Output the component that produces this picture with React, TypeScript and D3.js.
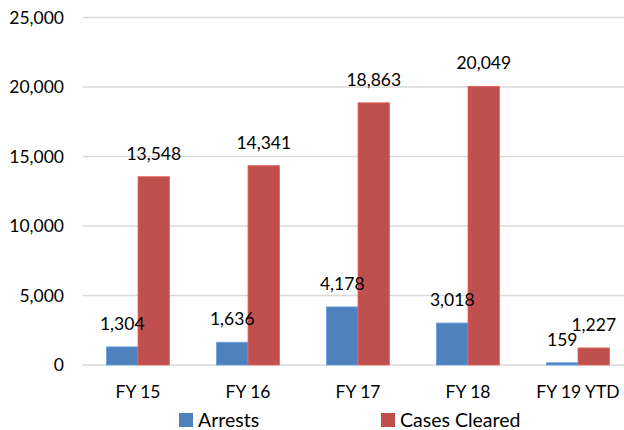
import React, { useEffect, useRef } from "react";
import * as d3 from "d3";

const categories = ["FY 15", "FY 16", "FY 17", "FY 18", "FY 19 YTD"];
const arrests = [1304, 1636, 4178, 3018, 159];
const casesCleared = [13548, 14341, 18863, 20049, 1227];
const yTicks = [0, 5000, 10000, 15000, 20000, 25000];
const seriesNames = ["Arrests", "Cases Cleared"];
const seriesColors = ["#4f81bd", "#c0504d"];

const W = 624;
const H = 430;
const FONT = "Lato, 'Open Sans', sans-serif";

const App: React.FC = () => {
  const ref = useRef<SVGSVGElement>(null);

  useEffect(() => {
    const svg = d3.select(ref.current);
    svg.selectAll("*").remove();

    const left = 83;
    const x = d3.scaleBand().domain(categories).range([left, left + 550]).paddingInner(0).paddingOuter(0);
    const y = d3.scaleLinear().domain([0, 25000]).range([365, 17.5]);
    const barW = 31.5;
    const fmt = d3.format(",");

    // gridlines + y labels
    const grid = svg.append("g");
    grid
      .selectAll("line")
      .data(yTicks)
      .enter()
      .append("line")
      .attr("x1", left)
      .attr("x2", W)
      .attr("y1", (d) => y(d))
      .attr("y2", (d) => y(d))
      .attr("stroke", "#d9d9d9")
      .attr("stroke-width", 1.3);
    grid
      .selectAll("text")
      .data(yTicks)
      .enter()
      .append("text")
      .attr("x", 64)
      .attr("y", (d) => y(d))
      .attr("dy", "0.36em")
      .attr("text-anchor", "end")
      .style("font-family", FONT)
      .style("font-size", "17.5px")
      .attr("fill", "#000")
      .text((d) => fmt(d));

    const series = [arrests, casesCleared];
    const barX = (i: number, si: number) =>
      x(categories[i])! + x.bandwidth() / 2 - barW + si * barW;

    // bars first
    series.forEach((vals, si) => {
      svg
        .append("g")
        .selectAll("rect")
        .data(vals)
        .enter()
        .append("rect")
        .attr("x", (_, i) => barX(i, si))
        .attr("y", (d) => y(d))
        .attr("width", barW)
        .attr("height", (d) => y(0) - y(d))
        .attr("fill", seriesColors[si])
        .attr("stroke", d3.color(seriesColors[si])!.brighter(0.6).toString())
        .attr("stroke-width", 0.8);
    });

    // then data labels on top
    series.forEach((vals, si) => {
      svg
        .append("g")
        .selectAll("text")
        .data(vals)
        .enter()
        .append("text")
        .attr("x", (_, i) => barX(i, si) + barW / 2)
        .attr("y", (d) => y(d) - 17)
        .attr("text-anchor", "middle")
        .style("font-family", FONT)
        .style("font-size", "17.5px")
        .attr("fill", "#000")
        .text((d) => fmt(d));
    });

    // x labels
    svg
      .append("g")
      .selectAll("text")
      .data(categories)
      .enter()
      .append("text")
      .attr("x", (d) => x(d)! + x.bandwidth() / 2)
      .attr("y", 398)
      .attr("text-anchor", "middle")
      .style("font-family", FONT)
      .style("font-size", "17.5px")
      .attr("fill", "#000")
      .text((d) => d);

    // legend
    const legendX = [179, 381];
    const lg = svg.append("g");
    seriesNames.forEach((name, i) => {
      lg.append("rect")
        .attr("x", legendX[i])
        .attr("y", 413)
        .attr("width", 14)
        .attr("height", 14)
        .attr("fill", seriesColors[i]);
      lg.append("text")
        .attr("x", legendX[i] + 19)
        .attr("y", 427)
        .style("font-family", FONT)
        .style("font-size", "19.5px")
        .attr("fill", "#000")
        .text(name);
    });
  }, []);

  return (
    <svg
      ref={ref}
      width={W}
      height={H}
      style={{ position: "absolute", left: 0, top: 0, background: "#fff" }}
    />
  );
};

export default App;
